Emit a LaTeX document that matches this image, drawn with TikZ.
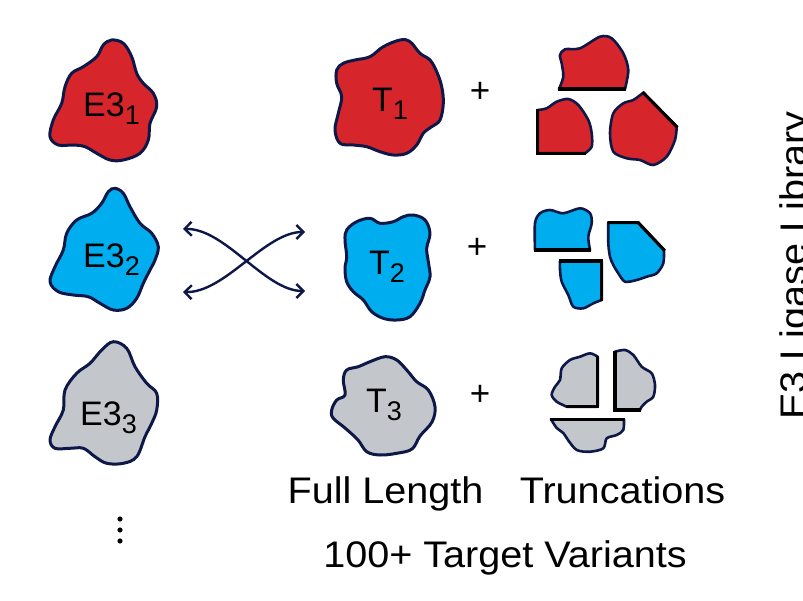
\documentclass[tikz,border=0pt]{standalone}
\usepackage{fontspec}
\setmainfont{Liberation Sans}
\newfontfamily\capfont{Liberation Sans}[FakeStretch=1.07]
\usetikzlibrary{arrows.meta}

\definecolor{navy}{HTML}{0E1848}
\definecolor{redfill}{HTML}{D7262B}
\definecolor{bluefill}{HTML}{00AEEF}
\definecolor{grayfill}{HTML}{C3C7CC}

\newcommand{\protlabel}[2]{{\fontsize{34}{34}\selectfont #1\raisebox{-8pt}{\fontsize{27}{27}\selectfont #2}}}

\tikzset{
  blob/.style={draw=navy, line width=3pt, line join=round},
  piece/.style={draw=navy, line width=2.6pt, line join=round},
  cutedge/.style={draw=black, line width=3.1pt, line cap=butt, line join=miter},
  swaparrow/.style={draw=navy, line width=2.4pt,
    {Straight Barb[length=7pt,width=14pt,line width=2.4pt]}-{Straight Barb[length=7pt,width=14pt,line width=2.4pt]}},
  plus/.style={font=\fontsize{35}{35}\selectfont, inner sep=0pt},
  caption/.style={font=\capfont\fontsize{37}{37}\selectfont, inner sep=0pt, anchor=base},
  lbl/.style={inner sep=0pt, anchor=base west}
}

\begin{document}
\begin{tikzpicture}[x=1pt, y=-1pt]
\useasboundingbox (0,0) rectangle (803,601);

% ---------- E3 ligases ----------
\filldraw[blob, fill=redfill] plot[smooth cycle, tension=0.6] coordinates {
  (111.7,40) (123.3,43.3) (131.7,56.7) (136.7,73.3) (143.3,83.3) (153.3,93.3)
  (156.7,106.7) (150,123.3) (148.3,140) (140,153.3) (123.3,160) (110,160)
  (96.7,153.3) (85,146.7) (73.3,145) (58.3,145) (50,136.7) (53.3,120)
  (61.7,103.3) (65,86.7) (71.7,73.3) (83.3,66.7) (96.7,56.7) (103.3,45)};
\node[lbl] (e1) at (83,117) {\protlabel{E3}{1}};

\filldraw[blob, fill=bluefill] plot[smooth cycle, tension=0.6] coordinates {
  (115,188.3) (123.3,193.3) (130,206.7) (140,223.3) (151.7,233.3) (158.3,246.7)
  (155,260) (150,270) (143.3,283.3) (136.7,298.3) (126.7,308.3) (113.3,310)
  (100,303.3) (88.3,296.7) (73.3,295) (58.3,291.7) (50,281.7) (55,266.7)
  (63.3,250) (66.7,233.3) (76.7,220) (91.7,213.3) (101.7,203.3) (108.3,191.7)};
\node[lbl] (e2) at (83,268) {\protlabel{E3}{2}};

\filldraw[blob, fill=grayfill] plot[smooth cycle, tension=0.6] coordinates {
  (113.3,341.7) (126.7,348.3) (135,366.7) (146.7,383.3) (156.7,393.3) (156.7,410)
  (151.7,423.3) (145,436.7) (136.7,456.7) (123.3,463.3) (106.7,463.3) (95,456.7)
  (83.3,448.3) (70,448.3) (55,448.3) (50,440) (55,426.7) (63.3,410)
  (65,390) (76.7,373.3) (90,363.3) (101.7,350)};
\node[lbl] (e3) at (80,425) {\protlabel{E3}{3}};

% more ligases
\foreach \yy in {519,530,541} \fill (120,\yy) circle (2.6pt);

% ---------- crossing double arrows ----------
\coordinate (ul) at (183,229);
\coordinate (ll) at (183,292);
\coordinate (ur) at (305,232);
\coordinate (lr) at (305,291);
\draw[swaparrow] (ul) .. controls (225,228) and (265,291) .. (lr);
\draw[swaparrow] (ll) .. controls (225,293) and (265,232) .. (ur);

% ---------- full-length targets ----------
\filldraw[blob, fill=redfill] plot[smooth cycle, tension=0.6] coordinates {
  (400,40) (410,41.7) (420,53.3) (430,60) (436.7,71.7) (441.7,86.7) (443.3,103.3)
  (440,120) (431.7,126.7) (423.3,133.3) (416.7,145) (406.7,153.3) (393.3,155)
  (380,151.7) (366.7,146.7) (353.3,145) (340,143.3) (335,130) (338.3,113.3)
  (341.7,96.7) (336.7,83.3) (336.7,70) (343.3,63.3) (355,60) (370,56.7) (383.3,46.7)};
\node[lbl] (t1) at (372,112) {\protlabel{T}{1}};

\filldraw[blob, fill=bluefill] plot[smooth cycle, tension=0.6] coordinates {
  (413.3,215) (425,220) (430,233.3) (426.7,248.3) (428.3,261.7) (430,276.7)
  (425,290) (420,303.3) (410,316.7) (396.7,320) (383.3,318.3) (371.7,311.7)
  (363.3,300) (353.3,291.7) (346.7,281.7) (345,268.3) (346.7,256.7) (345,240)
  (346.7,230) (356.7,221.7) (370,218.3) (380,223.3) (393.3,221.7) (403.3,216.7)};
\node[lbl] (t2) at (369,275) {\protlabel{T}{2}};

\filldraw[blob, fill=grayfill] plot[smooth cycle, tension=0.6] coordinates {
  (385,356.7) (396.7,360) (406.7,370) (416.7,381.7) (428.3,390) (435,406.7)
  (432,422) (420,436) (412,449) (396.7,453.3) (380,455) (366.7,451.7)
  (358,440) (345,428) (333,418) (331.7,410) (336.7,400) (345,395)
  (343.3,380) (346.7,370) (358.3,366.7) (370,361.7)};
\node[lbl] (t3) at (366,413) {\protlabel{T}{3}};

% plus signs
\node[plus] (p1) at (480,92) {+};
\node[plus] (p2) at (477,248) {+};
\node[plus] (p3) at (480,395) {+};

% ---------- truncations: red ----------
\filldraw[piece, fill=redfill] (559,89) -- (625,89) -- plot[smooth] coordinates {
  (625,89) (628.3,70) (623.3,53.3) (611.7,38.3) (600,36.7) (580,48.3)
  (565,49.3) (560,55) (561.7,63.3) (563.3,76.7) (559,89)} -- cycle;
\draw[cutedge] (558,89) -- (626,89);

\filldraw[piece, fill=redfill] (537.7,110) -- (537.7,153.3) -- (585,153.3) -- plot[smooth] coordinates {
  (585,153.3) (591.7,146.7) (591.7,133.3) (588.3,120) (578.3,105) (568.3,99)
  (556.7,101.7) (546.7,108.3) (537.7,110)} -- cycle;
\draw[cutedge] (537.7,109) -- (537.7,153.3) -- (586,153.3);

\filldraw[piece, fill=redfill] (643.3,92.7) -- (676.7,126.7) -- plot[smooth] coordinates {
  (676.7,126.7) (675,140) (666.7,156.7) (653.3,165) (640,160) (626.7,158.3)
  (613.3,151.7) (610,133.3) (613.3,113.3) (623.3,103.3) (633.3,100) (643.3,92.7)} -- cycle;
\draw[cutedge] (642.6,92) -- (677.4,127.4);

% ---------- truncations: blue ----------
\filldraw[piece, fill=bluefill] (590,250) -- (535,250) -- plot[smooth] coordinates {
  (535,250) (535,223.3) (540,213.3) (550,210) (563.3,213.3) (580,208.3)
  (590,213.3) (591.7,223.3) (588.3,236.7) (590,250)} -- cycle;
\draw[cutedge] (534,250) -- (591,250);

\filldraw[piece, fill=bluefill] (560,261) -- (601.7,261) -- (601.7,300) -- plot[smooth] coordinates {
  (601.7,300) (593.3,303.3) (583.3,308.3) (573.3,306.7) (568.3,295)
  (561.7,281.7) (560,270) (560,261)} -- cycle;
\draw[cutedge] (559,261) -- (601.7,261) -- (601.7,301);

\filldraw[piece, fill=bluefill] (608.3,222.7) -- (638.3,222.7) -- (664,250) -- plot[smooth] coordinates {
  (664,250) (663.3,263.3) (656.7,273.3) (646.7,276.7) (636.7,280) (625,281.7)
  (618.3,273.3) (613.3,265) (610,256.7) (608.3,243.3) (608.3,222.7)} -- cycle;
\draw[cutedge] (607.3,222.7) -- (638.3,222.7) -- (664.7,250.7);

% ---------- truncations: gray ----------
\filldraw[piece, fill=grayfill] (597.7,356.7) -- (597.7,406.7) -- (566.7,406.7) -- plot[smooth] coordinates {
  (566.7,406.7) (556.7,401.7) (551.7,395) (555,386.7) (560,380) (561.7,368.3)
  (570,360) (580,356.7) (590,353.3) (597.7,356.7)} -- cycle;
\draw[cutedge] (597.7,355.7) -- (597.7,406.7) -- (565.7,406.7);

\filldraw[piece, fill=grayfill] (615,351.7) -- (615,410) -- (640,410) -- plot[smooth] coordinates {
  (640,410) (641.7,406.7) (646.7,401.7) (653.3,396.7) (655,385) (651.7,373.3)
  (641.7,366.7) (633.3,355) (625,350) (615,351.7)} -- cycle;
\draw[cutedge] (615,350.7) -- (615,410) -- (641,410);

\filldraw[piece, fill=grayfill] (551,419.3) -- (624,419.3) -- plot[smooth] coordinates {
  (624,419.3) (623.3,430) (616.7,435) (606.7,438.3) (603.3,448.3) (590,451.7)
  (576.7,450) (568,440) (563.3,433) (556.7,428) (551,419.3)} -- cycle;
\draw[cutedge] (550,419.3) -- (625,419.3);

% ---------- captions ----------
\node[caption] (full) at (385.5,503) {Full Length};
\node[caption] (trunc) at (622.5,503) {Truncations};
\node[caption] (variants) at (505,567) {100+ Target Variants};
\node[caption, rotate=90] (library) at (806.5,265.5) {E3 Ligase Library};

\end{tikzpicture}
\end{document}
